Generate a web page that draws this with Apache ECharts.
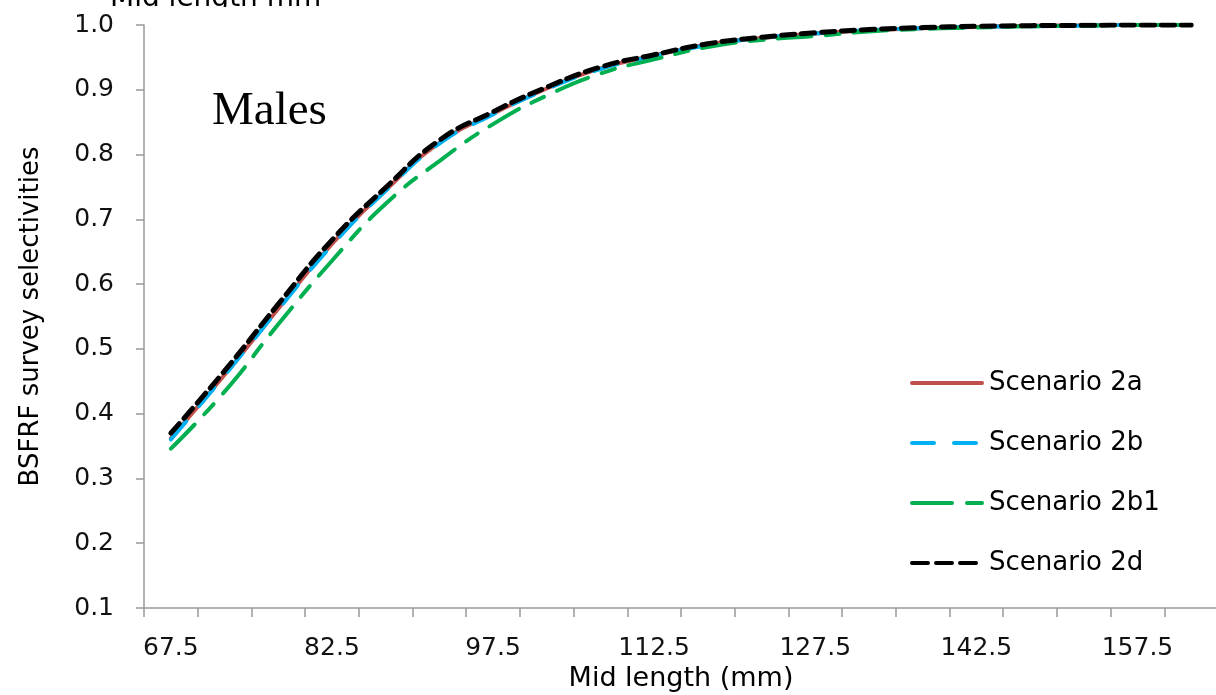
<!DOCTYPE html>
<html>
<head>
<meta charset="utf-8">
<script src="https://cdn.jsdelivr.net/npm/echarts@6/dist/echarts.min.js"></script>
<style>html,body{margin:0;padding:0;background:#fff}#c{width:1216px;height:695px}</style>
</head>
<body>
<div id="c"></div>
<script>
var midLengths = ['67.5','72.5','77.5','82.5','87.5','92.5','97.5','102.5','107.5','112.5','117.5','122.5','127.5','132.5','137.5','142.5','147.5','152.5','157.5','162.5'];
var scenario2a  = [0.362,0.460,0.562,0.662,0.745,0.818,0.863,0.902,0.933,0.953,0.970,0.980,0.987,0.992,0.995,0.997,0.999,0.9995,1.0,1.0];
var scenario2b  = [0.360,0.459,0.561,0.660,0.744,0.817,0.862,0.901,0.932,0.952,0.969,0.980,0.987,0.992,0.995,0.997,0.998,0.999,1.0,1.0];
var scenario2b1 = [0.346,0.434,0.538,0.636,0.724,0.790,0.847,0.891,0.925,0.947,0.966,0.977,0.983,0.990,0.994,0.996,0.998,0.999,1.0,1.0];
var scenario2d  = [0.370,0.466,0.569,0.668,0.749,0.822,0.866,0.904,0.935,0.954,0.971,0.981,0.988,0.993,0.996,0.998,0.999,0.9995,1.0,1.0];

var chart = echarts.init(document.getElementById('c'), null, {renderer:'canvas'});
var font = '"DejaVu Sans", Verdana, sans-serif';
var styles = {
  'Scenario 2a':  {color: '#C0504D', type: 'solid', width: 4},
  'Scenario 2b':  {color: '#00B0F0', type: [24, 20], width: 4},
  'Scenario 2b1': {color: '#00B050', type: [34, 14, 14, 14], width: 4},
  'Scenario 2d':  {color: '#000000', type: [13, 7], width: 5}
};
function mk(name, data) {
  var s = styles[name];
  return {
    name: name, type: 'line', data: data, smooth: true,
    symbol: 'none', showSymbol: false,
    lineStyle: {color: s.color, width: s.width, type: s.type, cap: 'round'},
    itemStyle: {color: s.color}
  };
}
function legItem(name) {
  var s = styles[name];
  var lt = name === 'Scenario 2b' ? [22, 20] : (name === 'Scenario 2b1' ? [40, 15, 15, 15] : (name === 'Scenario 2d' ? [16, 8] : 'solid'));
  return {name: name, lineStyle: {color: s.color, width: 4, type: lt, cap: 'round'}, itemStyle: {opacity: 0, borderWidth: 0}};
}
chart.setOption({
  animation: false,
  backgroundColor: '#fff',
  grid: {left: 144, top: 25, width: 1074, height: 583, containLabel: false, outerBoundsMode: 'none'},
  graphic: [
    {type: 'text', x: 212, y: 112, style: {text: 'Males', font: '47px "Liberation Serif", "Times New Roman", serif', fill: '#000', textVerticalAlign: 'middle'}},
    {type: 'text', x: 110, y: 13, z: 1, style: {text: 'Mid length mm', font: '28px ' + font, fill: '#000', textVerticalAlign: 'bottom'}},
    {type: 'rect', z: 2, shape: {x: 118, y: 7, width: 240, height: 12}, style: {fill: '#fff'}}
  ],
  legend: {
    orient: 'vertical', left: 905, top: 365,
    itemWidth: 70, itemHeight: 14, itemGap: 34,
    textStyle: {fontFamily: font, fontSize: 26, lineHeight: 26, color: '#000', padding: [0,0,0,2]},
    data: ['Scenario 2a','Scenario 2b','Scenario 2b1','Scenario 2d'].map(legItem)
  },
  xAxis: {
    type: 'category', data: midLengths, boundaryGap: true,
    name: 'Mid length (mm)', nameLocation: 'middle', nameGap: 56,
    nameTextStyle: {fontFamily: font, fontSize: 27, color: '#000'},
    axisLine: {lineStyle: {color: '#999', width: 1.5}},
    axisTick: {show: true, interval: 0, length: 9, lineStyle: {color: '#999', width: 1.5}},
    axisLabel: {interval: 2, fontFamily: font, fontSize: 25, color: '#111', margin: 28},
    splitLine: {show: false}
  },
  yAxis: {
    type: 'value', min: 0.1, max: 1.0, interval: 0.1,
    name: 'BSFRF survey selectivities', nameLocation: 'middle', nameGap: 100,
    nameTextStyle: {fontFamily: font, fontSize: 26, color: '#000'},
    axisLine: {show: true, lineStyle: {color: '#999', width: 1.5}},
    axisTick: {show: true, length: 8, lineStyle: {color: '#999', width: 1.5}},
    axisLabel: {fontFamily: font, fontSize: 25, color: '#111', margin: 30, formatter: function(v){return v.toFixed(1);}},
    splitLine: {show: false}
  },
  series: [
    mk('Scenario 2a', scenario2a),
    mk('Scenario 2b', scenario2b),
    mk('Scenario 2b1', scenario2b1),
    mk('Scenario 2d', scenario2d)
  ]
});
</script>
</body>
</html>
